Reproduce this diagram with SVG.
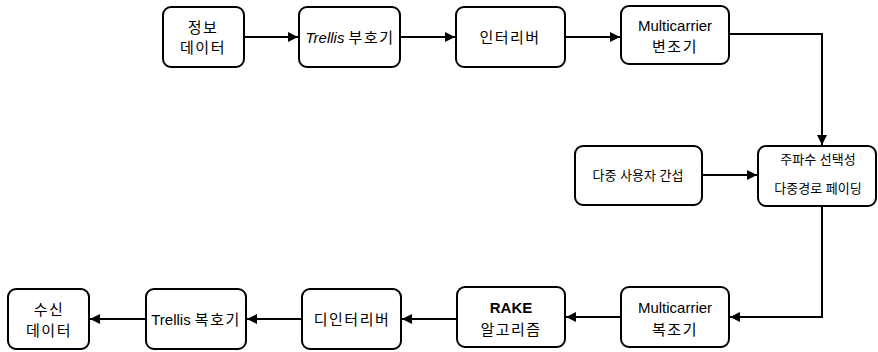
<svg xmlns="http://www.w3.org/2000/svg" width="878" height="352" viewBox="0 0 878 352">
<defs>
<style>
.box{fill:#fff;stroke:#000;stroke-width:2}
.t{font-family:"Liberation Sans","Noto Sans CJK KR",sans-serif;font-size:15px;fill:#000;text-anchor:middle;dominant-baseline:central}
.k{letter-spacing:1.5px}
.s{font-size:13px}
.c{fill:none;stroke:#000;stroke-width:2}
</style>
<marker id="ah" viewBox="0 0 10 10" refX="10" refY="5" markerWidth="10" markerHeight="10" markerUnits="userSpaceOnUse" orient="auto">
<path d="M0,0 L10,5 L0,10 z" fill="#000"/>
</marker>
</defs>
<g id="connectors">
<path class="c" d="M244,37 H298" marker-end="url(#ah)"/>
<path class="c" d="M400,37 H455" marker-end="url(#ah)"/>
<path class="c" d="M565,37 H620" marker-end="url(#ah)"/>
<path class="c" d="M729,34 H822 V145" marker-end="url(#ah)"/>
<path class="c" d="M702,175 H757" marker-end="url(#ah)"/>
<path class="c" d="M822,206 V317 H730" marker-end="url(#ah)"/>
<path class="c" d="M621,317 H566" marker-end="url(#ah)"/>
<path class="c" d="M457,319 H402" marker-end="url(#ah)"/>
<path class="c" d="M302,319 H247" marker-end="url(#ah)"/>
<path class="c" d="M146,319 H90" marker-end="url(#ah)"/>
</g>
<g id="n1"><rect class="box" x="163" y="7" width="81" height="60" rx="8"/><text class="t k" x="203" y="27">정보</text><text class="t k" x="203" y="47">데이터</text></g>
<g id="n2"><rect class="box" x="299" y="7" width="101" height="60" rx="8"/><text class="t" x="350" y="37"><tspan font-style="italic">Trellis</tspan> <tspan class="k">부호기</tspan></text></g>
<g id="n3"><rect class="box" x="456" y="7" width="109" height="60" rx="8"/><text class="t k" x="510" y="37">인터리버</text></g>
<g id="n4"><rect class="box" x="621" y="6" width="108" height="58" rx="8"/><text class="t" x="675" y="25">Multicarrier</text><text class="t k" x="675" y="46">변조기</text></g>
<g id="n5"><rect class="box" x="575" y="146" width="127" height="59" rx="8"/><text class="t s" x="638" y="175">다중 사용자 간섭</text></g>
<g id="n6"><rect class="box" x="758" y="146" width="118" height="60" rx="8"/><text class="t s" x="818" y="159">주파수 선택성</text><text class="t s" x="818" y="188" font-size="12.5">다중경로 페이딩</text></g>
<g id="n7"><rect class="box" x="621" y="287" width="108" height="60" rx="8"/><text class="t" x="675" y="307">Multicarrier</text><text class="t k" x="675" y="329">복조기</text></g>
<g id="n8"><rect class="box" x="457" y="287" width="108" height="60" rx="8"/><text class="t" x="511" y="307" font-weight="bold">RAKE</text><text class="t k" x="511" y="329">알고리즘</text></g>
<g id="n9"><rect class="box" x="302" y="289" width="99" height="60" rx="8"/><text class="t k" x="352" y="319">디인터리버</text></g>
<g id="n10"><rect class="box" x="146" y="289" width="100" height="60" rx="8"/><text class="t" x="196" y="319">Trellis <tspan class="k">복호기</tspan></text></g>
<g id="n11"><rect class="box" x="8" y="289" width="81" height="60" rx="8"/><text class="t k" x="49" y="309">수신</text><text class="t k" x="49" y="330">데이터</text></g>
</svg>
